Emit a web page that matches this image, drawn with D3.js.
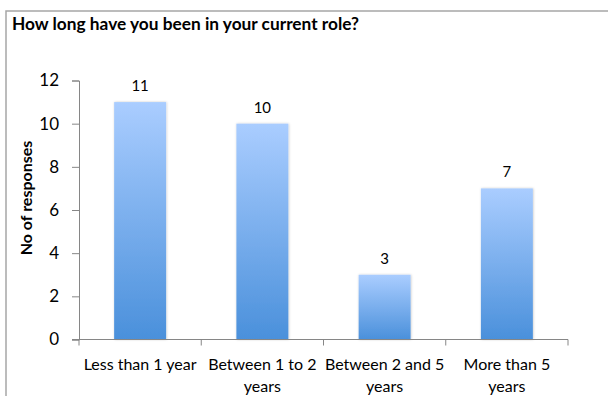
<!DOCTYPE html>
<html>
<head>
<meta charset="utf-8">
<script src="https://cdn.jsdelivr.net/npm/d3@7"></script>
<style>
  html, body { margin: 0; padding: 0; background: #fff; }
  svg { display: block; font-family: Lato, "Open Sans", sans-serif; }
</style>
</head>
<body>
<svg id="chart" width="608" height="396"></svg>
<script>
// Survey answers: time spent in current role
const categories = [
  ["Less than 1 year"],
  ["Between 1 to 2", "years"],
  ["Between 2 and 5", "years"],
  ["More than 5", "years"]
];
const responses = [11, 10, 3, 7];
const yTicks = [0, 2, 4, 6, 8, 10, 12];

const svg = d3.select("#chart");

// outer frame (open toward the right and bottom)
svg.append("rect")
  .attr("x", 6).attr("y", 11)
  .attr("width", 700).attr("height", 500)
  .attr("fill", "#fff")
  .attr("stroke", "#a6a6a6").attr("stroke-width", 1.5);

// title
svg.append("text")
  .attr("x", 12).attr("y", 30)
  .attr("font-weight", "bold")
  .attr("font-size", 17.3)
  .attr("fill", "#000")
  .text("How long have you been in your current role?");

const x = d3.scaleBand()
  .domain(d3.range(categories.length))
  .range([79, 568])
  .paddingInner(0.575)
  .paddingOuter(0.2875);

const y = d3.scaleLinear()
  .domain([0, 12])
  .range([339.5, 80.5]);

// gradient fill shared by the bars
const defs = svg.append("defs");
const grad = defs.append("linearGradient")
  .attr("id", "barFill")
  .attr("x1", 0).attr("y1", 0).attr("x2", 0).attr("y2", 1);
grad.append("stop").attr("offset", "0%").attr("stop-color", "#aacdff");
grad.append("stop").attr("offset", "100%").attr("stop-color", "#4a90db");

const shadow = defs.append("filter").attr("id", "barShadow")
  .attr("x", "-20%").attr("y", "-5%").attr("width", "140%").attr("height", "110%");
shadow.append("feDropShadow")
  .attr("dx", 0.5).attr("dy", 0).attr("stdDeviation", 1.1)
  .attr("flood-color", "#000").attr("flood-opacity", 0.22);

// bars
svg.append("g").selectAll("rect")
  .data(responses)
  .join("rect")
  .attr("x", (d, i) => x(i))
  .attr("y", d => y(d))
  .attr("width", x.bandwidth())
  .attr("height", d => y(0) - y(d))
  .attr("fill", "url(#barFill)")
  .attr("filter", "url(#barShadow)");

// value labels
svg.append("g").selectAll("text")
  .data(responses)
  .join("text")
  .attr("x", (d, i) => x(i) + x.bandwidth() / 2)
  .attr("y", d => y(d) - 11)
  .attr("text-anchor", "middle")
  .attr("font-size", 15)
  .attr("fill", "#000")
  .text(d => d);

// y axis
const yAxis = svg.append("g")
  .attr("transform", "translate(79,0)")
  .call(d3.axisLeft(y).tickValues(yTicks).tickSize(7).tickPadding(13));
yAxis.select(".domain").attr("stroke", "#868686");
yAxis.selectAll(".tick line").attr("stroke", "#868686");
yAxis.selectAll(".tick text")
  .attr("font-family", "Lato, 'Open Sans', sans-serif")
  .attr("font-size", 17).attr("fill", "#000");

// x axis: ticks on category boundaries
const xAxisG = svg.append("g").attr("transform", "translate(0,339.5)");
xAxisG.append("line")
  .attr("x1", 72).attr("x2", 568)
  .attr("stroke", "#868686");
const step = x.step();
xAxisG.selectAll("line.b")
  .data(d3.range(categories.length + 1))
  .join("line")
  .attr("class", "b")
  .attr("x1", i => 79 + i * step).attr("x2", i => 79 + i * step)
  .attr("y1", 0).attr("y2", 6)
  .attr("stroke", "#868686");

// category labels
const catG = svg.append("g");
categories.forEach((lines, i) => {
  const t = catG.append("text")
    .attr("x", x(i) + x.bandwidth() / 2)
    .attr("y", 370)
    .attr("text-anchor", "middle")
    .attr("font-size", 16)
    .attr("fill", "#000");
  lines.forEach((ln, j) => {
    t.append("tspan")
      .attr("x", x(i) + x.bandwidth() / 2)
      .attr("dy", j === 0 ? 0 : 22)
      .text(ln);
  });
});

// y axis title
svg.append("text")
  .attr("transform", "translate(32,198) rotate(-90)")
  .attr("text-anchor", "middle")
  .attr("font-weight", "bold")
  .attr("font-size", 16)
  .attr("fill", "#000")
  .text("No of responses");
</script>
</body>
</html>
